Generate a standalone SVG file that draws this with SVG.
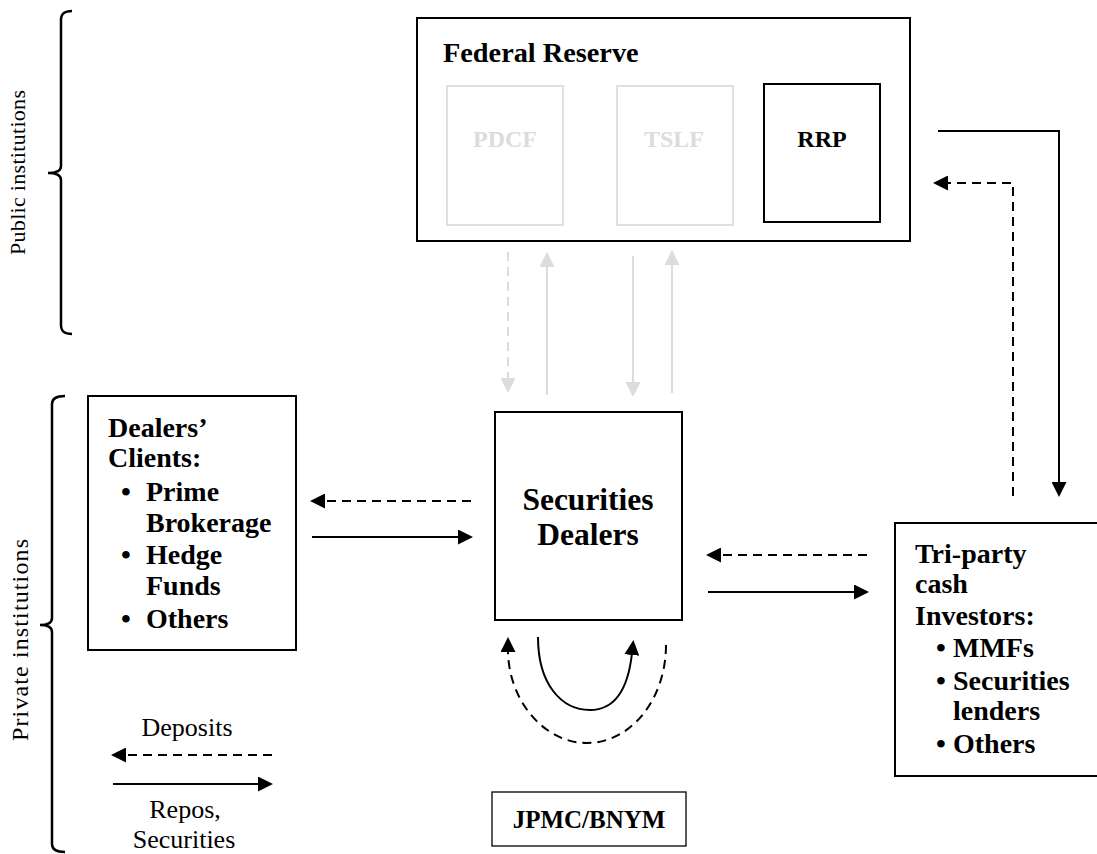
<svg xmlns="http://www.w3.org/2000/svg" width="1097" height="854" viewBox="0 0 1097 854">
<style>
.box{fill:#fff;stroke:#000;stroke-width:2}
.gbox{fill:#fff;stroke:#e0e0e0;stroke-width:2}
.t{font-family:"Liberation Serif",serif;fill:#000}
.b{font-weight:bold}
.g{fill:#dcdcdc}
.ln{fill:none;stroke:#000;stroke-width:2}
.gl{fill:none;stroke:#dcdcdc;stroke-width:2}
.d{stroke-dasharray:9 6}
.br{fill:none;stroke:#000;stroke-width:2.5}
</style>
<defs>
<marker id="ah" viewBox="0 0 15 15" refX="2" refY="7.5" markerWidth="15" markerHeight="15" markerUnits="userSpaceOnUse" orient="auto"><path d="M0,0 L15,7.5 L0,15 z" fill="#000"/></marker>
<marker id="ahg" viewBox="0 0 15 15" refX="2" refY="7.5" markerWidth="15" markerHeight="15" markerUnits="userSpaceOnUse" orient="auto"><path d="M0,0 L15,7.5 L0,15 z" fill="#dcdcdc"/></marker>
</defs>

<g id="brackets">
<path class="br" d="M72,11 C65,11 61,13 61,20 V166 C61,171 57,173 48,173 C57,173 61,175 61,180 V325 C61,332 65,334 72,334"/>
<text class="t" font-size="22" text-anchor="middle" textLength="165" transform="translate(25,172.5) rotate(-90)">Public institutions</text>
<path class="br" d="M65,396 C57,396 52,398 52,404 V618 C52,623 48,625 40,625 C48,625 52,627 52,632 V844 C52,850 57,852 65,852"/>
<text class="t" font-size="24" text-anchor="middle" textLength="202" transform="translate(28,640) rotate(-90)">Private institutions</text>
</g>

<g id="fed">
<rect class="box" x="417" y="18" width="493" height="223"/>
<text class="t b" x="443" y="62" font-size="28.3">Federal Reserve</text>
</g>
<g id="pdcf">
<rect class="gbox" x="447" y="86" width="116" height="139"/>
<text class="t b g" x="505" y="147" font-size="24" text-anchor="middle">PDCF</text>
</g>
<g id="tslf">
<rect class="gbox" x="617" y="86" width="116" height="139"/>
<text class="t b g" x="674" y="147" font-size="24" text-anchor="middle">TSLF</text>
</g>
<g id="rrp">
<rect class="box" x="764" y="84" width="116" height="138"/>
<text class="t b" x="822" y="147" font-size="24" text-anchor="middle">RRP</text>
</g>

<g id="dealers">
<rect class="box" x="495" y="412" width="187" height="208"/>
<text class="t b" x="588" y="510" font-size="31.5" text-anchor="middle">Securities</text>
<text class="t b" x="588" y="545" font-size="31.5" text-anchor="middle">Dealers</text>
</g>

<g id="clients">
<rect class="box" x="88" y="396" width="208" height="254"/>
<g class="t b" font-size="28">
<text x="108" y="437">Dealers’</text>
<text x="108" y="467">Clients:</text>
<text x="121" y="501">•</text><text x="146" y="501">Prime</text>
<text x="146" y="532">Brokerage</text>
<text x="121" y="564">•</text><text x="146" y="564">Hedge</text>
<text x="146" y="595">Funds</text>
<text x="121" y="628">•</text><text x="146" y="628">Others</text>
</g>
</g>

<g id="triparty">
<rect class="box" x="895" y="523" width="212" height="253"/>
<g class="t b" font-size="28">
<text x="915" y="563">Tri-party</text>
<text x="915" y="593">cash</text>
<text x="915" y="625">Investors:</text>
<text x="936" y="657">•</text><text x="953" y="657">MMFs</text>
<text x="936" y="690">•</text><text x="953" y="690">Securities</text>
<text x="953" y="720">lenders</text>
<text x="936" y="753">•</text><text x="953" y="753">Others</text>
</g>
</g>

<g id="jpmc">
<rect x="492" y="792" width="194" height="54" fill="#fff" stroke="#000" stroke-width="1.3"/>
<text class="t b" x="589" y="828" font-size="25" text-anchor="middle">JPMC/BNYM</text>
</g>

<g id="legend">
<text class="t" x="187" y="736" font-size="26" text-anchor="middle">Deposits</text>
<path class="ln d" d="M272,755 H124" marker-end="url(#ah)"/>
<path class="ln" d="M113,784 H260" marker-end="url(#ah)"/>
<text class="t" x="185" y="818" font-size="26" text-anchor="middle">Repos,</text>
<text class="t" x="184" y="848" font-size="26" text-anchor="middle">Securities</text>
</g>

<g id="connectors">
<path class="gl d" d="M508,252 V380" marker-end="url(#ahg)"/>
<path class="gl" d="M547,395 V265" marker-end="url(#ahg)"/>
<path class="gl" d="M633,256 V384" marker-end="url(#ahg)"/>
<path class="gl" d="M672,393 V263" marker-end="url(#ahg)"/>
<path class="ln d" d="M471,501 H323" marker-end="url(#ah)"/>
<path class="ln" d="M312,537 H460" marker-end="url(#ah)"/>
<path class="ln d" d="M867,555 H719" marker-end="url(#ah)"/>
<path class="ln" d="M708,592 H856" marker-end="url(#ah)"/>
<path class="ln" d="M938,131 H1059 V484" marker-end="url(#ah)"/>
<path class="ln d" d="M1013,496 V183 H946" marker-end="url(#ah)"/>
<path class="ln" d="M538,637 C538,685 562,710 590,710 C614,710 628,690 632,653" marker-end="url(#ah)"/>
<path class="ln d" d="M666,645 C666,699 631,743 587,743 C543,743 508,699 508,650" marker-end="url(#ah)"/>
</g>
</svg>
